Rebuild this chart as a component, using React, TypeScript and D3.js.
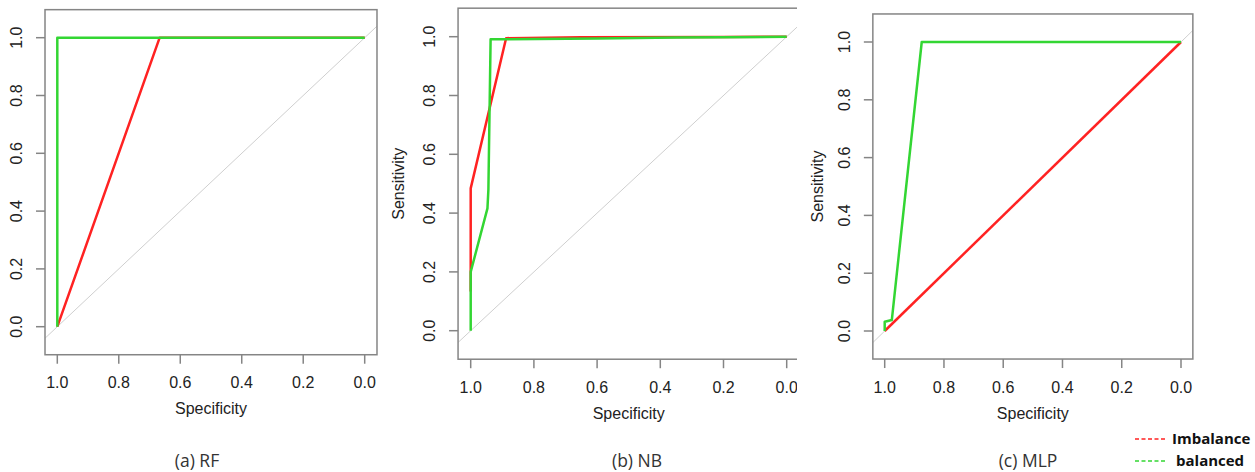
import React from "react";
import * as d3 from "d3";

// ROC curves: [specificity, sensitivity]
const rfImbalance: [number, number][] = [[1, 0], [0.667, 1], [0, 1]];
const rfBalanced: [number, number][] = [[1, 0], [1, 1], [0, 1]];

const nbImbalance: [number, number][] = [
  [1, 0.133], [1, 0.484], [0.888, 0.995], [0.82, 0.996], [0.65, 0.998], [0.2, 0.999], [0, 1],
];
const nbBalanced: [number, number][] = [
  [1, 0], [1, 0.2], [0.947, 0.416], [0.944, 0.48], [0.937, 0.991], [0.6, 0.994], [0.35, 0.997], [0, 1],
];

const mlpImbalance: [number, number][] = [[1, 0], [0, 1]];
const mlpBalanced: [number, number][] = [
  [1, 0], [1, 0.032], [0.976, 0.038], [0.875, 1], [0.43, 1], [0, 1],
];

const ticks = [1.0, 0.8, 0.6, 0.4, 0.2, 0.0];
const captions = ["(a) RF", "(b) NB", "(c) MLP"];
const legendLabels = ["Imbalance", "balanced"];
const seriesColors = ["#ff2222", "#33d633"];

const W = 1255;
const H = 472;
const AXIS_FONT = "'Liberation Sans', Arial, sans-serif";
const CAP_FONT = "'Open Sans', 'Noto Sans', sans-serif";

// panel a's y-axis title falls outside the image in the original, so it is left out
const layouts = [
  { x: [57.3, 364.7], y: [326.7, 37.7], ylabDx: null as number | null, capX: 197, clipRight: null as number | null },
  { x: [470.7, 786.7], y: [330.7, 36.7], ylabDx: -60, capX: 637, clipRight: 797 },
  { x: [884.7, 1181], y: [331, 42], ylabDx: -55, capX: 1028, clipRight: null as number | null },
];

const panelData = [
  [rfImbalance, rfBalanced],
  [nbImbalance, nbBalanced],
  [mlpImbalance, mlpBalanced],
];

const Panel = ({ i }: { i: number }) => {
  const lay = layouts[i];
  const xs = d3.scaleLinear().domain([1, 0]).range(lay.x);
  const ys = d3.scaleLinear().domain([0, 1]).range(lay.y);
  const left = xs(1.04);
  const right = xs(-0.04);
  const top = ys(1.097);
  const bottom = ys(-0.097);
  const line = d3
    .line<[number, number]>()
    .x((d) => xs(d[0]))
    .y((d) => ys(d[1]));
  const fmt = d3.format(".1f");
  const frameColor = "#858585";
  const plotClip = `plot-${i}`;
  const outerClip = `outer-${i}`;

  return (
    <g clipPath={lay.clipRight ? `url(#${outerClip})` : undefined}>
      <defs>
        <clipPath id={plotClip}>
          <rect x={left} y={top} width={right - left} height={bottom - top} />
        </clipPath>
        {lay.clipRight && (
          <clipPath id={outerClip}>
            <rect x={0} y={0} width={lay.clipRight} height={H} />
          </clipPath>
        )}
      </defs>

      <g clipPath={`url(#${plotClip})`}>
        <path
          d={line([[1.2, -0.2], [-0.2, 1.2]]) || ""}
          stroke="#cfcfcf"
          strokeWidth={1}
          fill="none"
        />
        {panelData[i].map((s, k) => (
          <path
            key={k}
            d={line(s) || ""}
            stroke={seriesColors[k]}
            strokeWidth={2.5}
            fill="none"
            strokeLinejoin="round"
          />
        ))}
      </g>

      <rect x={left} y={top} width={right - left} height={bottom - top} fill="none" stroke={frameColor} strokeWidth={1.5} />

      {ticks.map((t) => (
        <g key={"x" + t}>
          <line x1={xs(t)} x2={xs(t)} y1={bottom} y2={bottom + 9} stroke={frameColor} strokeWidth={1.5} />
          <text
            x={xs(t)}
            y={bottom + 28}
            textAnchor="middle"
            dominantBaseline="central"
            fontFamily={AXIS_FONT}
            fontSize={16}
            fill="#222"
          >
            {fmt(t)}
          </text>
        </g>
      ))}
      {ticks.map((t) => (
        <g key={"y" + t}>
          <line x1={left} x2={left - 9} y1={ys(t)} y2={ys(t)} stroke={frameColor} strokeWidth={1.5} />
          <text
            transform={`translate(${left - 28.5},${ys(t)}) rotate(-90)`}
            textAnchor="middle"
            dominantBaseline="central"
            fontFamily={AXIS_FONT}
            fontSize={16}
            fill="#222"
          >
            {fmt(t)}
          </text>
        </g>
      ))}

      <text
        x={(xs(1) + xs(0)) / 2}
        y={bottom + 54}
        textAnchor="middle"
        dominantBaseline="central"
        fontFamily={AXIS_FONT}
        fontSize={16}
        fill="#222"
      >
        Specificity
      </text>
      {lay.ylabDx !== null && (
        <text
          transform={`translate(${left + lay.ylabDx},${(top + bottom) / 2}) rotate(-90)`}
          textAnchor="middle"
          dominantBaseline="central"
          fontFamily={AXIS_FONT}
          fontSize={16}
          fill="#222"
        >
          Sensitivity
        </text>
      )}
    </g>
  );
};

export default function App() {
  return (
    <div style={{ position: "absolute", left: 0, top: 0, width: W, height: H, background: "#fff" }}>
      <svg width={W} height={H} viewBox={`0 0 ${W} ${H}`}>
        <rect width={W} height={H} fill="#fff" />
        {layouts.map((_, i) => (
          <Panel key={i} i={i} />
        ))}
        {captions.map((c, i) => (
          <text
            key={c}
            x={layouts[i].capX}
            y={460}
            textAnchor="middle"
            dominantBaseline="central"
            fontFamily={CAP_FONT}
            fontSize={17.5}
            fill="#333"
          >
            {c}
          </text>
        ))}
        {legendLabels.map((l, k) => (
          <g key={l} transform={`translate(1135,${439 + k * 22})`}>
            <line x1={0} x2={31} y1={0} y2={0} stroke={seriesColors[k]} strokeWidth={1.5} strokeDasharray="4 2.5" />
            <text
              x={k === 0 ? 37 : 41}
              y={-1}
              dominantBaseline="central"
              fontFamily={CAP_FONT}
              fontWeight="bold"
              fontSize={15}
              fill="#111"
            >
              {l}
            </text>
          </g>
        ))}
      </svg>
    </div>
  );
}
